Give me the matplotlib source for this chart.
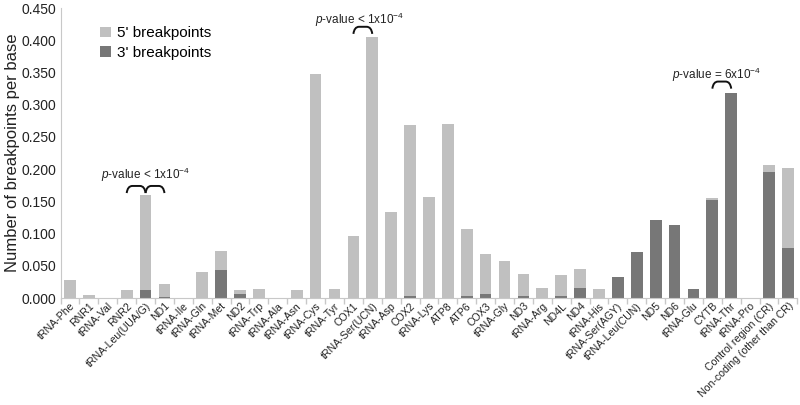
import numpy as np
import matplotlib
matplotlib.use("Agg")
import matplotlib.pyplot as plt
from matplotlib.path import Path
from matplotlib.patches import PathPatch

plt.rcParams["font.family"] = ["Liberation Sans", "DejaVu Sans"]
plt.rcParams["mathtext.fontset"] = "custom"
plt.rcParams["mathtext.rm"] = "Liberation Sans"
plt.rcParams["mathtext.it"] = "Liberation Sans:italic"

# categories along the mitochondrial genome
regions = [
    "tRNA-Phe", "RNR1", "tRNA-Val", "RNR2", "tRNA-Leu(UUA/G)", "ND1", "tRNA-Ile",
    "tRNA-Gln", "tRNA-Met", "ND2", "tRNA-Trp", "tRNA-Ala", "tRNA-Asn", "tRNA-Cys",
    "tRNA-Tyr", "COX1", "tRNA-Ser(UCN)", "tRNA-Asp", "COX2", "tRNA-Lys", "ATP8",
    "ATP6", "COX3", "tRNA-Gly", "ND3", "tRNA-Arg", "ND4L", "ND4", "tRNA-His",
    "tRNA-Ser(AGY)", "tRNA-Leu(CUN)", "ND5", "ND6", "tRNA-Glu", "CYTB", "tRNA-Thr",
    "tRNA-Pro", "Control region (CR)", "Non-coding (other than CR)",
]

# 3' breakpoints per base (bottom segment)
three_prime = [
    0.0, 0.0, 0.0, 0.0, 0.013, 0.002, 0.0,
    0.0, 0.044, 0.006, 0.0, 0.0, 0.0, 0.0,
    0.0, 0.0, 0.0, 0.0, 0.003, 0.0, 0.0,
    0.003, 0.007, 0.0, 0.003, 0.0, 0.003, 0.015, 0.0,
    0.033, 0.071, 0.121, 0.114, 0.014, 0.152, 0.318,
    0.0, 0.195, 0.078,
]

# 5' breakpoints per base (stacked on top)
five_prime = [
    0.028, 0.005, 0.0, 0.012, 0.147, 0.020, 0.0,
    0.041, 0.029, 0.006, 0.014, 0.0, 0.013, 0.348,
    0.014, 0.097, 0.405, 0.133, 0.266, 0.157, 0.270,
    0.104, 0.061, 0.058, 0.034, 0.015, 0.033, 0.030, 0.014,
    0.0, 0.0, 0.0, 0.0, 0.0, 0.003, 0.0,
    0.0, 0.012, 0.124,
]

# significance brackets: (left index, right index, label)
brackets = [
    (3, 4, None), (4, 5, r"$\it{p}$-value < 1x10$^{-4}$"),
    (15, 16, r"$\it{p}$-value < 1x10$^{-4}$"),
    (34, 35, r"$\it{p}$-value = 6x10$^{-4}$"),
]
bracket_y = [0.163, 0.163, 0.410, 0.325]
label_x = [None, 4.0, 15.3, 34.2]
label_y = [None, 0.191, 0.432, 0.346]

light = "#c0c0c0"
dark = "#777777"
axis_gray = "#c8c8c8"

fig = plt.figure(figsize=(8, 4.05), dpi=100)
ax = fig.add_axes([0.0757, 0.264, 0.921, 0.716])

x = np.arange(len(regions))
ax.bar(x, three_prime, width=0.62, color=dark, label="3' breakpoints", zorder=2)
ax.bar(x, five_prime, width=0.62, bottom=three_prime, color=light,
       label="5' breakpoints", zorder=2)


def arc(x0, x1, y0, h=0.011):
    # rounded bracket from x0 to x1, opening downward
    verts = [(x0, y0), (x0 + 0.05, y0 + h), (x0 + 0.3, y0 + h),
             (x1 - 0.3, y0 + h),
             (x1 - 0.05, y0 + h), (x1, y0)]
    codes = [Path.MOVETO, Path.CURVE3, Path.CURVE3, Path.LINETO,
             Path.CURVE3, Path.CURVE3]
    ax.add_patch(PathPatch(Path(verts, codes), fill=False, lw=1.4,
                           edgecolor="#111111", zorder=3))


for (i0, i1, txt), by, lx, ly in zip(brackets, bracket_y, label_x, label_y):
    arc(i0, i1, by)
    if txt:
        ax.text(lx, ly, txt, ha="center", va="center", fontsize=8.5,
                color="#222222")

ax.set_xlim(-0.5, len(regions) - 0.5)
ax.set_ylim(0, 0.45)
ax.set_yticks(np.arange(0, 0.451, 0.05))
ax.set_yticklabels([f"{v:.3f}" for v in np.arange(0, 0.451, 0.05)],
                   fontsize=10, color="#222222")
ax.set_ylabel("Number of breakpoints per base", fontsize=12, color="#222222",
              labelpad=1)
ax.tick_params(axis="y", length=0, pad=3)

ax.set_xticks(x)
ax.set_xticklabels(regions, rotation=45, ha="right", rotation_mode="anchor",
                   fontsize=7.6, color="#222222")
ax.tick_params(axis="x", length=0, pad=2)
ax.set_xticks(np.arange(-0.5, len(regions), 1.0), minor=True)
ax.tick_params(axis="x", which="minor", length=4, color=axis_gray, width=1)

for side in ["top", "right"]:
    ax.spines[side].set_visible(False)
ax.spines["left"].set_color(axis_gray)
ax.spines["bottom"].set_color(axis_gray)

handles, labels = ax.get_legend_handles_labels()
ax.legend(handles[::-1], labels[::-1], loc="upper left",
          bbox_to_anchor=(0.035, 0.985), frameon=False, fontsize=11,
          handlelength=0.7, handleheight=0.7, handletextpad=0.4,
          labelspacing=0.35)

fig.savefig("out.png", dpi=100)
